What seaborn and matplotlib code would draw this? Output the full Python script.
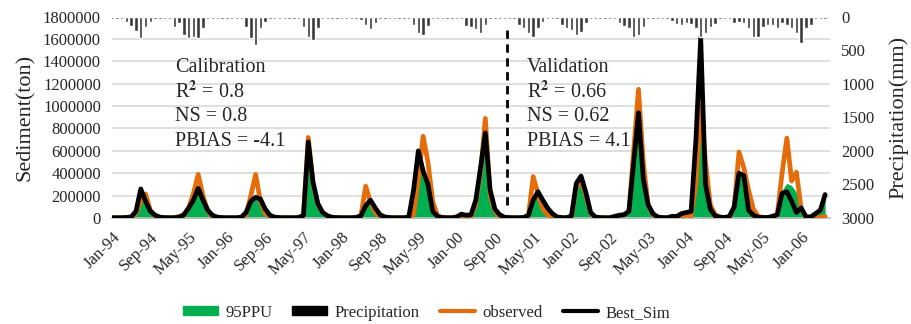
import numpy as np
import pandas as pd
import matplotlib
matplotlib.use("Agg")
import matplotlib.pyplot as plt
import seaborn as sns
from matplotlib.patches import Patch
from matplotlib.lines import Line2D

# monthly series, Jan-1994 .. Jun-2006
observed = [
    3e3, 3e3, 3e3, 5e3, 8e3, 40e3, 150e3, 215e3, 70e3, 20e3, 5e3, 3e3,
    3e3, 3e3, 15e3, 20e3, 90e3, 220e3, 390e3, 200e3, 60e3, 15e3, 5e3, 3e3,
    3e3, 3e3, 3e3, 5e3, 30e3, 200e3, 390e3, 150e3, 40e3, 10e3, 3e3, 3e3,
    3e3, 3e3, 3e3, 5e3, 20e3, 720e3, 300e3, 120e3, 50e3, 20e3, 5e3, 3e3,
    3e3, 3e3, 3e3, 5e3, 20e3, 285e3, 140e3, 50e3, 15e3, 5e3, 3e3, 3e3,
    3e3, 3e3, 3e3, 30e3, 350e3, 730e3, 500e3, 150e3, 20e3, 5e3, 3e3, 3e3,
    5e3, 20e3, 20e3, 15e3, 120e3, 400e3, 890e3, 200e3, 60e3, 15e3, 5e3, 3e3,
    3e3, 3e3, 5e3, 20e3, 370e3, 220e3, 80e3, 30e3, 10e3, 3e3, 3e3, 3e3,
    10e3, 280e3, 340e3, 200e3, 40e3, 8e3, 3e3, 3e3, 3e3, 10e3, 20e3, 30e3,
    60e3, 600e3, 1150e3, 500e3, 120e3, 30e3, 5e3, 3e3, 3e3, 10e3, 10e3, 10e3,
    30e3, 20e3, 300e3, 1000e3, 500e3, 120e3, 30e3, 10e3, 5e3, 10e3, 100e3, 590e3,
    450e3, 250e3, 80e3, 15e3, 5e3, 5e3, 10e3, 30e3, 400e3, 715e3, 330e3, 410e3,
    80e3, 15e3, 5e3, 5e3, 5e3, 15e3,
]
best_sim = [
    3e3, 3e3, 3e3, 5e3, 10e3, 60e3, 260e3, 150e3, 60e3, 25e3, 8e3, 4e3,
    3e3, 3e3, 8e3, 30e3, 90e3, 160e3, 265e3, 160e3, 70e3, 25e3, 8e3, 4e3,
    3e3, 3e3, 3e3, 8e3, 50e3, 150e3, 185e3, 170e3, 80e3, 25e3, 8e3, 4e3,
    3e3, 3e3, 3e3, 5e3, 25e3, 680e3, 320e3, 130e3, 50e3, 20e3, 6e3, 4e3,
    3e3, 3e3, 3e3, 5e3, 20e3, 110e3, 160e3, 90e3, 30e3, 10e3, 5e3, 3e3,
    3e3, 3e3, 10e3, 250e3, 600e3, 420e3, 300e3, 60e3, 15e3, 5e3, 3e3, 3e3,
    10e3, 35e3, 25e3, 30e3, 160e3, 450e3, 760e3, 250e3, 80e3, 30e3, 8e3, 4e3,
    3e3, 3e3, 5e3, 25e3, 160e3, 235e3, 160e3, 90e3, 40e3, 10e3, 4e3, 3e3,
    20e3, 310e3, 375e3, 230e3, 50e3, 10e3, 4e3, 3e3, 3e3, 15e3, 25e3, 30e3,
    60e3, 500e3, 940e3, 350e3, 120e3, 40e3, 10e3, 4e3, 3e3, 15e3, 15e3, 40e3,
    50e3, 60e3, 700e3, 1610e3, 300e3, 80e3, 20e3, 8e3, 5e3, 15e3, 100e3, 400e3,
    380e3, 70e3, 25e3, 8e3, 5e3, 5e3, 15e3, 30e3, 220e3, 235e3, 150e3, 50e3,
    90e3, 10e3, 10e3, 40e3, 70e3, 210e3,
]
ppu_upper = [
    3e3, 3e3, 3e3, 5e3, 10e3, 60e3, 290e3, 170e3, 60e3, 20e3, 5e3, 3e3,
    3e3, 3e3, 8e3, 30e3, 100e3, 170e3, 270e3, 150e3, 60e3, 20e3, 5e3, 3e3,
    3e3, 3e3, 3e3, 8e3, 50e3, 160e3, 180e3, 160e3, 70e3, 20e3, 5e3, 3e3,
    3e3, 3e3, 3e3, 5e3, 25e3, 735e3, 330e3, 130e3, 50e3, 20e3, 5e3, 3e3,
    3e3, 3e3, 3e3, 5e3, 20e3, 120e3, 150e3, 80e3, 25e3, 8e3, 3e3, 3e3,
    3e3, 3e3, 10e3, 250e3, 625e3, 400e3, 280e3, 60e3, 15e3, 5e3, 3e3, 3e3,
    8e3, 30e3, 20e3, 25e3, 150e3, 450e3, 760e3, 240e3, 70e3, 25e3, 5e3, 3e3,
    3e3, 3e3, 5e3, 20e3, 160e3, 230e3, 150e3, 80e3, 30e3, 8e3, 3e3, 3e3,
    10e3, 300e3, 330e3, 200e3, 30e3, 8e3, 3e3, 3e3, 3e3, 10e3, 20e3, 30e3,
    60e3, 550e3, 1160e3, 400e3, 120e3, 30e3, 5e3, 3e3, 3e3, 10e3, 15e3, 30e3,
    40e3, 50e3, 500e3, 1090e3, 420e3, 120e3, 30e3, 8e3, 5e3, 10e3, 80e3, 380e3,
    350e3, 80e3, 25e3, 8e3, 5e3, 5e3, 10e3, 30e3, 250e3, 310e3, 290e3, 230e3,
    140e3, 30e3, 15e3, 40e3, 120e3, 200e3,
]
precip = [
    35, 35, 35, 85, 135, 210, 325, 150, 85, 40, 35, 35,
    40, 150, 100, 275, 320, 300, 320, 170, 40, 35, 35, 35,
    35, 35, 35, 40, 150, 325, 425, 165, 85, 35, 35, 35,
    35, 35, 35, 40, 150, 300, 345, 175, 40, 35, 35, 35,
    35, 35, 35, 40, 45, 120, 185, 100, 40, 35, 35, 35,
    35, 35, 40, 120, 250, 270, 135, 40, 35, 35, 35, 35,
    35, 40, 135, 150, 185, 250, 125, 40, 35, 35, 35, 35,
    35, 125, 175, 250, 300, 175, 75, 35, 35, 40, 125, 175,
    200, 275, 225, 100, 35, 35, 35, 35, 35, 40, 100, 135,
    175, 300, 275, 150, 40, 35, 35, 35, 35, 60, 115, 125,
    100, 115, 175, 300, 240, 160, 110, 35, 35, 40, 100, 75,
    100, 175, 300, 300, 150, 125, 125, 175, 100, 125, 175, 250,
    400, 175, 125, 40, 35, 35,
]

months = pd.date_range("1994-01-01", periods=len(observed), freq="MS")
idx = np.arange(len(months))
split_month = 82.6  # calibration / validation boundary

df = pd.DataFrame({"m": idx, "observed": observed, "Best_Sim": best_sim,
                   "ppu": ppu_upper, "precip": precip})

sns.set_style("white")
plt.rcParams["font.family"] = ["Liberation Serif", "DejaVu Serif"]
plt.rcParams["mathtext.fontset"] = "stix"

green = "#00B050"
orange = "#E46C0A"

fig, ax = plt.subplots(figsize=(9.11, 3.24), dpi=100)
fig.subplots_adjust(left=0.123, right=0.911, top=0.949, bottom=0.327)

ax.fill_between(df["m"], 0, df["ppu"], color=green, lw=0, zorder=2)
sns.lineplot(data=df, x="m", y="observed", color=orange, lw=3.4, ax=ax,
             solid_joinstyle="round", solid_capstyle="round", zorder=3)
sns.lineplot(data=df, x="m", y="Best_Sim", color="black", lw=3.4, ax=ax,
             solid_joinstyle="round", solid_capstyle="round", zorder=4)

ax.set_xlim(0, 150)
ax.set_ylim(0, 1800000)
ax.set_yticks(np.arange(0, 1800001, 200000))
ax.set_yticklabels([str(v) for v in range(0, 1800001, 200000)], fontsize=12)
ax.yaxis.grid(True, color="#d9d9d9", lw=1.2)
ax.set_axisbelow(True)
ax.tick_params(axis="y", length=0, pad=8)
ax.set_xticks(idx[::8])
ax.set_xticklabels([d.strftime("%b-%y") for d in months[::8]], rotation=45,
                   ha="right", rotation_mode="anchor", fontsize=12)
ax.tick_params(axis="x", length=5, color="#bfbfbf", width=1, pad=3)
ax.set_xlabel("")
ax.set_ylabel("Sediment(ton)", fontsize=16, labelpad=6)
for s in ["top", "right", "left"]:
    ax.spines[s].set_visible(False)
ax.spines["bottom"].set_color("#bfbfbf")
ax.spines["bottom"].set_linewidth(1.2)

ax.axvline(split_month, ymin=0.065, ymax=0.95, color="black", lw=2,
           ls=(0, (3, 2)), zorder=5)

ax2 = ax.twinx()
ax2.bar(df["m"], df["precip"], width=0.72, color="#3a3a3a", zorder=2)
ax2.set_ylim(3000, 0)
ax2.set_yticks(np.arange(0, 3001, 500))
ax2.set_yticklabels([str(v) for v in range(0, 3001, 500)], fontsize=12)
ax2.tick_params(axis="y", length=0, pad=8)
ax2.set_ylabel("Precipitation(mm)", fontsize=16, labelpad=10)
for s in ["top", "right", "left", "bottom"]:
    ax2.spines[s].set_visible(False)

cal = ["Calibration", r"R$^{\mathbf{2}}$ = 0.8", "NS = 0.8", "PBIAS = -4.1"]
val = ["Validation", r"R$^{\mathbf{2}}$ = 0.66", "NS = 0.62", "PBIAS = 4.1"]
for k, (a, b) in enumerate(zip(cal, val)):
    yy = 0.748 - k * 0.123
    ax.text(0.088, yy, a, transform=ax.transAxes, fontsize=14.5, va="center")
    ax.text(0.578, yy, b, transform=ax.transAxes, fontsize=14.5, va="center")

handles = [Patch(color=green), Patch(color="black"),
           Line2D([], [], color=orange, lw=3), Line2D([], [], color="black", lw=3)]
fig.legend(handles, ["95PPU", "Precipitation", "observed", "Best_Sim"],
           loc="center", bbox_to_anchor=(0.468, 0.035), ncol=4, frameon=False,
           fontsize=12, handlelength=2.1, handleheight=0.45, columnspacing=1.2,
           handletextpad=0.45)

fig.savefig("out.png", dpi=100)
